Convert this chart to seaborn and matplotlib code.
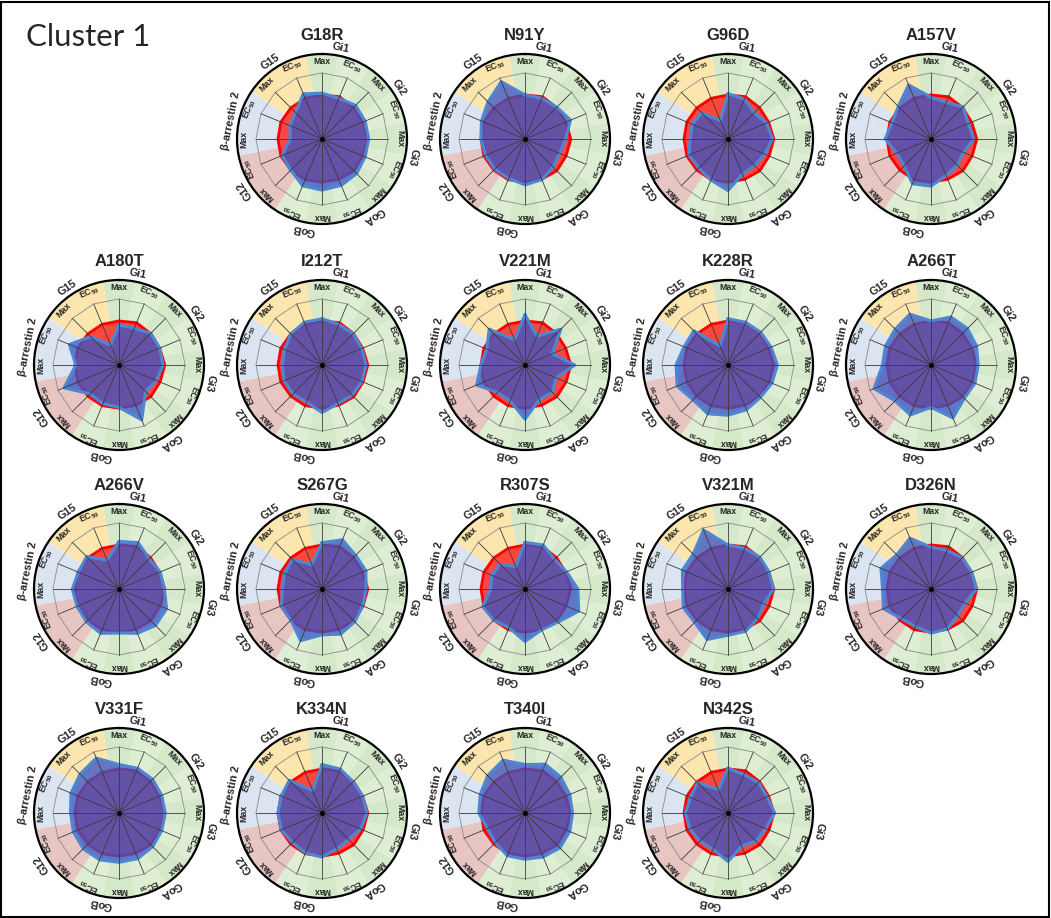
import numpy as np
import matplotlib
matplotlib.use("Agg")
import matplotlib.pyplot as plt
import seaborn as sns
from matplotlib.patches import Rectangle

# receptor / transducer groups, two readouts each, clockwise from the top
groups = ["Gi1", "Gi2", "Gi3", "GoA", "GoB", "G12", "β-arrestin 2", "G15"]
readouts = ["Max", r"EC$_\mathbf{50}$"]
group_colors = ["#d5e8c9", "#d5e8c9", "#d5e8c9", "#d5e8c9", "#d5e8c9",
                "#e7c5c2", "#dbe5f1", "#fce6ae"]

# wild-type reference (red polygon), % of WT
wt = [100, 104, 101, 100, 104, 101, 102, 99, 98, 100, 100, 101, 100, 101, 100, 100]

# mutant values (blue polygons), order: Gi1 Max, Gi1 EC50, Gi2 Max, ... G15 EC50
g18r = [104, 100, 108, 106, 106, 106, 111, 114, 116, 115, 100, 98, 72, 79, 85, 111]
n91y = [100, 100, 102, 112, 92, 85, 90, 100, 104, 97, 97, 97, 100, 107, 119, 141]
g96d = [103, 98, 84, 95, 101, 90, 85, 86, 117, 101, 94, 96, 86, 88, 84, 45]
a157v = [95, 90, 103, 92, 97, 80, 84, 90, 107, 110, 86, 84, 104, 96, 105, 133]
a180t = [91, 90, 102, 100, 100, 92, 85, 135, 96, 95, 93, 135, 98, 122, 91, 49]
i212t = [105, 100, 100, 98, 100, 98, 97, 95, 108, 91, 93, 93, 90, 92, 100, 105]
v221m = [114, 71, 115, 67, 113, 76, 88, 85, 123, 88, 88, 119, 100, 94, 115, 62]
k228r = [105, 105, 105, 106, 112, 108, 104, 110, 114, 120, 112, 125, 118, 108, 110, 47]
a266t = [100, 118, 117, 112, 107, 108, 107, 130, 96, 123, 115, 140, 110, 112, 115, 125]
a266v = [108, 114, 97, 101, 103, 117, 117, 109, 100, 109, 105, 103, 106, 100, 104, 71]
s267g = [105, 121, 108, 108, 100, 100, 105, 111, 104, 127, 100, 100, 90, 92, 95, 60]
r307s = [106, 108, 95, 102, 120, 132, 106, 100, 119, 95, 100, 104, 78, 81, 80, 55]
v321m = [100, 100, 102, 101, 103, 88, 95, 104, 105, 124, 107, 110, 103, 112, 112, 145]
d326n = [95, 95, 100, 100, 103, 84, 85, 98, 100, 92, 95, 117, 110, 123, 110, 125]
v331f = [110, 110, 108, 105, 105, 105, 108, 112, 112, 115, 115, 112, 110, 118, 125, 135]
k334n = [110, 108, 100, 100, 102, 95, 85, 88, 100, 98, 95, 100, 100, 100, 105, 55]
t340i = [110, 120, 115, 110, 108, 110, 112, 108, 105, 105, 95, 92, 105, 110, 120, 130]
n342s = [102, 94, 98, 96, 106, 92, 90, 81, 110, 89, 90, 94, 97, 92, 98, 57]

mutants = [("G18R", g18r), ("N91Y", n91y), ("G96D", g96d), ("A157V", a157v),
           ("A180T", a180t), ("I212T", i212t), ("V221M", v221m), ("K228R", k228r),
           ("A266T", a266t), ("A266V", a266v), ("S267G", s267g), ("R307S", r307s),
           ("V321M", v321m), ("D326N", d326n), ("V331F", v331f), ("K334N", k334n),
           ("T340I", t340i), ("N342S", n342s)]

sns.set_theme(style="white")
plt.rcParams["font.family"] = ["Liberation Sans", "DejaVu Sans"]
plt.rcParams["mathtext.fontset"] = "custom"
plt.rcParams["mathtext.rm"] = "Liberation Sans"
plt.rcParams["mathtext.bf"] = "Liberation Sans:bold"

W, H = 1051, 918
fig = plt.figure(figsize=(W / 100, H / 100), dpi=100)
fig.patches.append(Rectangle((0.001, 0.001), 0.997, 0.997, transform=fig.transFigure,
                             fill=False, edgecolor="black", lw=1.5))
fig.text(26 / W, 1 - 37 / H, "Cluster 1", family=["Lato", "DejaVu Sans"],
         fontsize=22.5, ha="left", va="center")

n = 16
theta = np.arange(n) * 2 * np.pi / n
th_c = np.append(theta, 2 * np.pi)
R_OUT = 193      # outer black circle
R_GRID = 150     # outermost grid ring
RAD = 85         # circle radius in pixels

col_x = [119, 322, 525, 728, 931]
row_y = [139, 365, 589, 813]
slots = [(0, c) for c in range(1, 5)] + [(r, c) for r in (1, 2) for c in range(5)] \
    + [(3, c) for c in range(4)]


def draw_panel(ax, name, vals):
    ax.set_theta_zero_location("N")
    ax.set_theta_direction(-1)
    for i in range(n):
        g = i // 2
        col = group_colors[g]
        if g < 5 and i % 2 == 1:
            col = "#deeed3"
        ax.bar(theta[i], R_OUT, width=2 * np.pi / n, bottom=0, color=col,
               edgecolor="none", zorder=0)
    for r in (50, 100, 150):
        ax.plot(th_c, [r] * (n + 1), color="#8a8a8a", lw=0.6, zorder=1)

    wc = np.append(wt, wt[0])
    vc = np.append(vals, vals[0])
    ax.fill(th_c, wc, color="#ff1f1f", alpha=0.8, lw=0, zorder=2)
    sns.lineplot(x=th_c, y=wc, ax=ax, color="#ff0000", lw=2.0, sort=False,
                 estimator=None, zorder=3)
    ax.fill(th_c, vc, color="#3a56c4", alpha=0.78, lw=0, zorder=4)
    sns.lineplot(x=th_c, y=vc, ax=ax, color="#4d86d3", lw=2.2, sort=False,
                 estimator=None, zorder=5)

    for t in theta:
        ax.plot([t, t], [0, R_GRID], color="#3a3a3a", lw=0.6, zorder=6)
    ax.plot([0], [0], "o", ms=2.5, color="black", zorder=7)

    for i in range(n):
        ang = np.degrees(theta[i])
        ax.text(theta[i], 177, readouts[i % 2], rotation=-ang, rotation_mode="anchor",
                ha="center", va="center", fontsize=6.3, fontweight="bold", zorder=8)
    for g in range(8):
        t = theta[2 * g] + np.pi / n
        ax.text(t, 211, groups[g], rotation=-np.degrees(t), rotation_mode="anchor",
                ha="center", va="center", fontsize=7.8, fontweight="bold",
                clip_on=False, zorder=8)

    ax.set_ylim(0, R_OUT)
    ax.set_xticks([])
    ax.set_yticks([])
    ax.grid(False)
    ax.set_xlabel("")
    ax.set_ylabel("")
    ax.spines["polar"].set_color("black")
    ax.spines["polar"].set_linewidth(1.6)
    ax.set_facecolor("none")


for (name, vals), (r, c) in zip(mutants, slots):
    cx, cy = col_x[c], row_y[r]
    ax = fig.add_axes([(cx - RAD) / W, 1 - (cy + RAD) / H, 2 * RAD / W, 2 * RAD / H],
                      projection="polar")
    draw_panel(ax, name, vals)
    fig.text(cx / W, 1 - (cy - 104) / H, name, ha="center", va="center",
             fontsize=12, fontweight="bold")

fig.savefig("out.png", dpi=100)
